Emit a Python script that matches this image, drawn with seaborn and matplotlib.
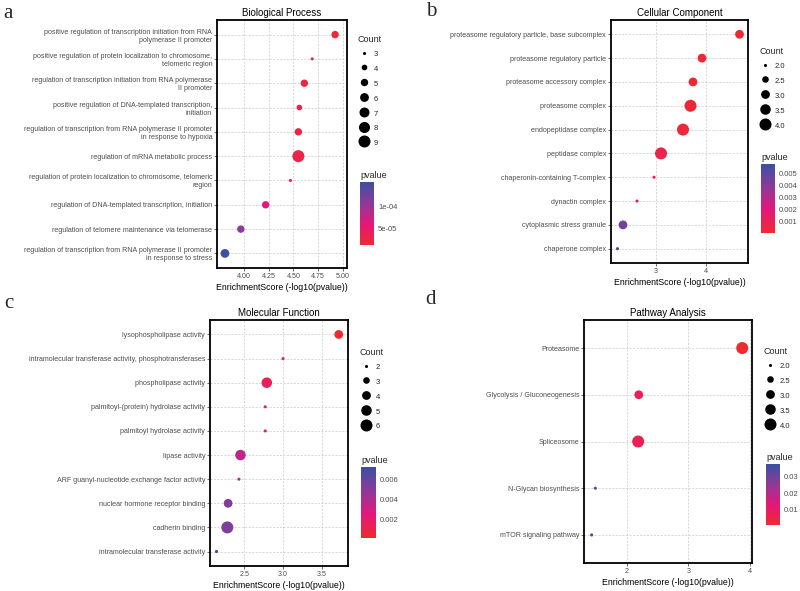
import textwrap
import matplotlib
matplotlib.use("Agg")
import matplotlib.pyplot as plt
import seaborn as sns
import pandas as pd
from matplotlib.colors import LinearSegmentedColormap, Normalize
from matplotlib.cm import ScalarMappable
from matplotlib.lines import Line2D

# ---- data (top to bottom as shown) ----
bp_terms = [
    "positive regulation of transcription initiation from RNA polymerase II promoter",
    "positive regulation of protein localization to chromosome, telomeric region",
    "regulation of transcription initiation from RNA polymerase II promoter",
    "positive regulation of DNA-templated transcription, initiation",
    "regulation of transcription from RNA polymerase II promoter in response to hypoxia",
    "regulation of mRNA metabolic process",
    "regulation of protein localization to chromosome, telomeric region",
    "regulation of DNA-templated transcription, initiation",
    "regulation of telomere maintenance via telomerase",
    "regulation of transcription from RNA polymerase II promoter in response to stress",
]
bp_score = [4.92, 4.69, 4.61, 4.56, 4.55, 4.55, 4.47, 4.22, 3.97, 3.81]
bp_count = [5, 3, 5, 4, 5, 9, 3, 5, 5, 6]

cc_terms = [
    "proteasome regulatory particle, base subcomplex",
    "proteasome regulatory particle",
    "proteasome accessory complex",
    "proteasome complex",
    "endopeptidase complex",
    "peptidase complex",
    "chaperonin-containing T-complex",
    "dynactin complex",
    "cytoplasmic stress granule",
    "chaperone complex",
]
cc_score = [4.68, 3.93, 3.75, 3.70, 3.55, 3.11, 2.97, 2.63, 2.35, 2.24]
cc_count = [3, 3, 3, 4, 4, 4, 2, 2, 3, 2]

mf_terms = [
    "lysophospholipase activity",
    "intramolecular transferase activity, phosphotransferases",
    "phospholipase activity",
    "palmitoyl-(protein) hydrolase activity",
    "palmitoyl hydrolase activity",
    "lipase activity",
    "ARF guanyl-nucleotide exchange factor activity",
    "nuclear hormone receptor binding",
    "cadherin binding",
    "intramolecular transferase activity",
]
mf_score = [3.72, 3.00, 2.79, 2.77, 2.77, 2.45, 2.43, 2.29, 2.28, 2.14]
mf_count = [4, 2, 5, 2, 2, 5, 2, 4, 6, 2]

kegg_terms = [
    "Proteasome",
    "Glycolysis / Gluconeogenesis",
    "Spliceosome",
    "N-Glycan biosynthesis",
    "mTOR signaling pathway",
]
kegg_score = [3.88, 2.19, 2.18, 1.48, 1.42]
kegg_count = [4, 3, 4, 2, 2]

sns.set_theme(style="whitegrid")
plt.rcParams['font.family'] = ['Liberation Sans', 'DejaVu Sans']

cmap = LinearSegmentedColormap.from_list(
    "pv", ["#EE2A30", "#E5177A", "#8E3A98", "#3A50A2"])

fig = plt.figure(figsize=(8, 5.91), dpi=100)
W, H = 800, 591


def rect(l, t, r, b):
    return [l / W, 1 - b / H, (r - l) / W, (b - t) / H]


def panel(terms, score, count, title, letter, ax_px, xlim, xticks, xlabels,
          size_vals, size_labels, p_ticks, p_labels, leg_px, cb_px, let_px):
    labels = [textwrap.fill(t, 60, break_on_hyphens=False) for t in terms]
    df = pd.DataFrame({"term": labels, "score": score, "Count": count})
    df["pvalue"] = 10 ** (-df["score"])
    norm = Normalize(df["pvalue"].min(), df["pvalue"].max())
    cmin, cmax = min(count), max(count)

    ax = fig.add_axes(rect(*ax_px))
    sns.scatterplot(data=df, x="score", y="term", hue="pvalue", size="Count",
                    palette=cmap, hue_norm=norm, sizes=(5, 75),
                    size_norm=(cmin, cmax), linewidth=0, legend=False,
                    ax=ax, zorder=3)
    n = len(terms)
    ax.set_ylim(n - 0.4, -0.6)
    ax.set_xlim(*xlim)
    ax.set_xticks(xticks, xlabels)
    ax.grid(True, ls=(0, (3, 2)), lw=0.5, color="#C9C9C9")
    ax.set_axisbelow(True)
    for s in ax.spines.values():
        s.set_color("black")
        s.set_linewidth(1.3)
    ax.tick_params(axis="both", length=2, width=0.5, color="#333333",
                   pad=1.5, labelsize=5.1, labelcolor="#4D4D4D",
                   bottom=True, left=True)
    ax.set_ylabel("")
    ax.set_xlabel("EnrichmentScore (-log10(pvalue))", fontsize=6.3,
                  labelpad=2, color="black")
    ax.set_title(title, fontsize=7, pad=3, color="black")

    handles = [Line2D([], [], marker="o", ls="", color="black", mec="none",
                      markersize=(5 + (v - cmin) / (cmax - cmin) * 70) ** 0.5)
               for v in size_vals]
    fig.legend(handles, size_labels, title="Count", loc="upper left",
               bbox_to_anchor=(leg_px[0] / W, 1 - leg_px[1] / H),
               frameon=False, fontsize=5.5, title_fontsize=6.5,
               handleheight=1.6, labelspacing=0.65, handlelength=1.6,
               handletextpad=0.5, borderpad=0, borderaxespad=0,
               alignment="left")

    cax = fig.add_axes(rect(*cb_px))
    cb = fig.colorbar(ScalarMappable(norm=norm, cmap=cmap), cax=cax)
    cb.outline.set_visible(False)
    cb.set_ticks(p_ticks, labels=p_labels)
    cax.tick_params(axis="y", direction="in", color="white", length=2.5,
                    width=0.6, labelsize=5.5, labelcolor="#4D4D4D", pad=3,
                    left=True, right=True)
    cax.set_title("pvalue", loc="left", fontsize=6.5, pad=3)

    fig.text(let_px[0] / W, 1 - let_px[1] / H, letter, family="Liberation Serif",
             fontsize=15, va="top", ha="left")


panel(bp_terms, bp_score, bp_count, "Biological Process", "a",
      (217, 20, 347, 268), (3.73, 5.04), [4.0, 4.25, 4.5, 4.75, 5.0],
      ["4.00", "4.25", "4.50", "4.75", "5.00"],
      [3, 4, 5, 6, 7, 8, 9], ["3", "4", "5", "6", "7", "8", "9"],
      [5e-05, 1e-04], ["5e-05", "1e-04"],
      (358, 35), (360, 182, 374, 245), (3, 4))

panel(cc_terms, cc_score, cc_count, "Cellular Component", "b",
      (611, 20, 748, 263), (2.11, 4.85), [3, 4], ["3", "4"],
      [2.0, 2.5, 3.0, 3.5, 4.0], ["2.0", "2.5", "3.0", "3.5", "4.0"],
      [0.001, 0.002, 0.003, 0.004, 0.005],
      ["0.001", "0.002", "0.003", "0.004", "0.005"],
      (759, 47), (761, 164, 775, 233), (426, 2))

panel(mf_terms, mf_score, mf_count, "Molecular Function", "c",
      (210, 320, 348, 566), (2.056, 3.84), [2.5, 3.0, 3.5],
      ["2.5", "3.0", "3.5"],
      [2, 3, 4, 5, 6], ["2", "3", "4", "5", "6"],
      [0.002, 0.004, 0.006], ["0.002", "0.004", "0.006"],
      (360, 348), (361, 467, 376, 538), (4, 294))

panel(kegg_terms, kegg_score, kegg_count, "Pathway Analysis", "d",
      (584, 320, 752, 563), (1.295, 4.04), [2, 3, 4], ["2", "3", "4"],
      [2.0, 2.5, 3.0, 3.5, 4.0], ["2.0", "2.5", "3.0", "3.5", "4.0"],
      [0.01, 0.02, 0.03], ["0.01", "0.02", "0.03"],
      (764, 347), (766, 464, 780, 525), (425, 290))

fig.savefig("out.png", dpi=100)
